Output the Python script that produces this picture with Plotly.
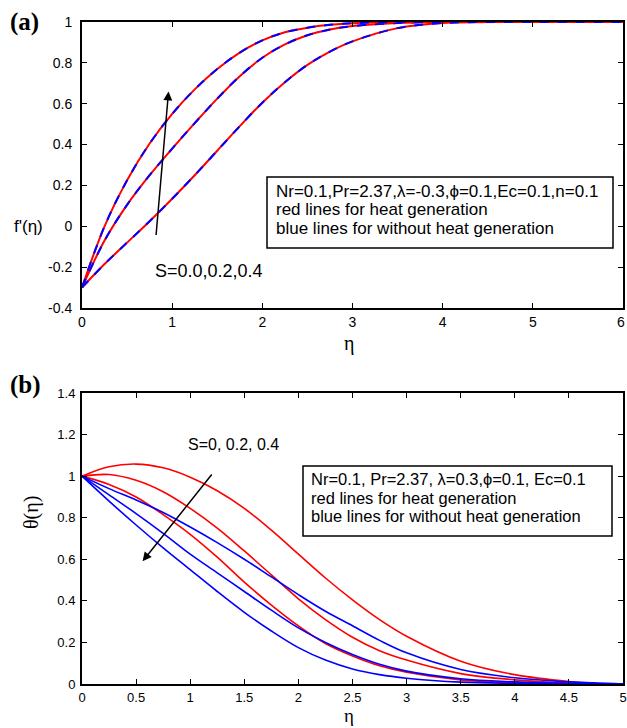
import plotly.graph_objects as go

# ---------- Panel (a): f'(eta) ----------
eta_a = [0, 0.25, 0.5, 0.75, 1, 1.25, 1.5, 1.75, 2, 2.25, 2.5, 2.75, 3, 3.5, 4, 5, 6]
fp_s00 = [-0.3, -0.185, -0.08, 0.025, 0.135, 0.25, 0.37, 0.49, 0.605, 0.705, 0.79, 0.855, 0.905, 0.97, 0.995, 1.0, 1.0]
fp_s02 = [-0.3, -0.07, 0.105, 0.25, 0.38, 0.505, 0.625, 0.735, 0.825, 0.89, 0.935, 0.963, 0.98, 0.995, 1.0, 1.0, 1.0]
fp_s04 = [-0.3, 0.0, 0.225, 0.405, 0.55, 0.67, 0.77, 0.85, 0.91, 0.95, 0.972, 0.986, 0.994, 1.0, 1.0, 1.0, 1.0]

# ---------- Panel (b): theta(eta) ----------
eta_b = [0, 0.25, 0.5, 0.75, 1, 1.25, 1.5, 1.75, 2, 2.25, 2.5, 2.75, 3, 3.5, 4, 4.5, 5]
eta_b_red = [0, 0.25, 0.5, 0.75, 1, 1.25, 1.5, 1.75, 2, 2.25, 2.5, 2.75, 3, 3.5, 4, 4.5, 4.75]
th_red_s00 = [1.0, 1.045, 1.058, 1.04, 0.995, 0.93, 0.845, 0.74, 0.625, 0.51, 0.405, 0.31, 0.23, 0.11, 0.045, 0.012, 0.004]
th_red_s02 = [1.0, 1.008, 0.98, 0.925, 0.845, 0.75, 0.64, 0.525, 0.41, 0.31, 0.225, 0.16, 0.115, 0.05, 0.02, 0.005, 0.002]
th_red_s04 = [1.0, 0.96, 0.90, 0.815, 0.72, 0.61, 0.49, 0.38, 0.28, 0.195, 0.135, 0.088, 0.057, 0.02, 0.006, 0.001, 0.0]
th_blue_s00 = [1.0, 0.94, 0.885, 0.825, 0.755, 0.68, 0.60, 0.515, 0.43, 0.35, 0.28, 0.21, 0.15, 0.07, 0.03, 0.01, 0.0]
th_blue_s02 = [1.0, 0.91, 0.82, 0.725, 0.625, 0.535, 0.445, 0.355, 0.27, 0.2, 0.142, 0.095, 0.062, 0.025, 0.01, 0.002, 0.0]
th_blue_s04 = [1.0, 0.88, 0.765, 0.655, 0.55, 0.445, 0.345, 0.255, 0.175, 0.115, 0.072, 0.045, 0.028, 0.009, 0.003, 0.0, 0.0]

ticks_a_x = [0, 1, 2, 3, 4, 5]
last_tick_a = 6
ticks_a_y = [-0.4, -0.2, 0, 0.2, 0.4, 0.6, 0.8, 1]
ticks_b_x = [0, 0.5, 1, 1.5, 2, 2.5, 3, 3.5, 4, 4.5, 5]
ticks_b_y = [0, 0.2, 0.4, 0.6, 0.8, 1, 1.2, 1.4]

legend_a = ["Nr=0.1,Pr=2.37,λ=-0.3,ϕ=0.1,Ec=0.1,n=0.1",
            "red lines for heat generation",
            "blue lines for without heat generation"]
legend_b = ["Nr=0.1, Pr=2.37, λ=0.3,ϕ=0.1, Ec=0.1",
            "red lines for heat generation",
            "blue lines for without heat generation"]

W, H = 627, 728
RED = "#ff0000"
BLUE = "#0000ff"
SANS = "Liberation Sans, Arial, sans-serif"
SERIF = "Liberation Serif, Times New Roman, serif"

fig = go.Figure()

for ys in (fp_s00, fp_s02, fp_s04):
    fig.add_trace(go.Scatter(x=eta_a, y=ys, mode="lines", line=dict(color=RED, width=2, shape="spline"),
                             xaxis="x", yaxis="y", showlegend=False))
    fig.add_trace(go.Scatter(x=eta_a, y=ys, mode="lines", line=dict(color=BLUE, width=2, dash="dash", shape="spline"),
                             xaxis="x", yaxis="y", showlegend=False))

for ys in (th_red_s00, th_red_s02, th_red_s04):
    fig.add_trace(go.Scatter(x=eta_b_red, y=ys, mode="lines", line=dict(color=RED, width=1.6, shape="spline"),
                             xaxis="x2", yaxis="y2", showlegend=False))
for ys in (th_blue_s00, th_blue_s02, th_blue_s04):
    fig.add_trace(go.Scatter(x=eta_b, y=ys, mode="lines", line=dict(color=BLUE, width=1.6, shape="spline"),
                             xaxis="x2", yaxis="y2", showlegend=False))

def px_x(p):
    return p / W

def px_y(p):
    return 1 - p / H

axis_common = dict(showline=True, linecolor="black", linewidth=2, mirror="ticks", ticks="inside",
                   ticklen=5, tickwidth=1, tickcolor="black", showgrid=False, zeroline=False,
                   automargin=False)

xdom = [px_x(82), px_x(623)]
fig.update_layout(
    width=W, height=H, margin=dict(l=0, r=0, t=0, b=0),
    paper_bgcolor="white", plot_bgcolor="white", showlegend=False,
    xaxis=dict(domain=xdom, range=[0, 6], tickvals=ticks_a_x + [last_tick_a],
               ticktext=[str(v) for v in ticks_a_x] + [""], anchor="y",
               tickfont=dict(family=SANS, size=14, color="black"), **axis_common),
    yaxis=dict(domain=[px_y(308), px_y(22)], range=[-0.4, 1], tickvals=ticks_a_y,
               ticktext=[("%g" % v) for v in ticks_a_y], anchor="x", ticklabelstandoff=5,
               tickfont=dict(family=SANS, size=14, color="black"), **axis_common),
    xaxis2=dict(domain=xdom, range=[0, 5], tickvals=ticks_b_x, anchor="y2",
                tickfont=dict(family=SANS, size=13, color="black"), **axis_common),
    yaxis2=dict(domain=[px_y(684), px_y(393)], range=[0, 1.4], tickvals=ticks_b_y,
                ticktext=[("%g" % v) for v in ticks_b_y], anchor="x2", ticklabelstandoff=2,
                tickfont=dict(family=SANS, size=13, color="black"), **axis_common),
)

ann = []
# last top tick label (placed so it is not clipped at the page edge)
ann.append(dict(x=px_x(621), y=px_y(322), xref="paper", yref="paper", text=str(last_tick_a), showarrow=False,
                xanchor="center", yanchor="middle", font=dict(family=SANS, size=14, color="black")))
# panel labels
ann.append(dict(x=px_x(8), y=px_y(22), xref="paper", yref="paper", text="<b>(a)</b>", showarrow=False,
                xanchor="left", yanchor="middle", font=dict(family=SERIF, size=25, color="black")))
ann.append(dict(x=px_x(8), y=px_y(385), xref="paper", yref="paper", text="<b>(b)</b>", showarrow=False,
                xanchor="left", yanchor="middle", font=dict(family=SERIF, size=25, color="black")))
# axis titles
ann.append(dict(x=px_x(28), y=px_y(226), xref="paper", yref="paper", text="f'(η)", showarrow=False,
                xanchor="center", yanchor="middle", font=dict(family=SANS, size=17, color="black")))
ann.append(dict(x=px_x(349), y=px_y(343), xref="paper", yref="paper", text="η", showarrow=False,
                xanchor="center", yanchor="middle", font=dict(family=SERIF, size=20, color="black")))
ann.append(dict(x=px_x(31), y=px_y(512), xref="paper", yref="paper", text="θ(η)", showarrow=False, textangle=-90,
                xanchor="center", yanchor="middle", font=dict(family=SERIF, size=20, color="black")))
ann.append(dict(x=px_x(349), y=px_y(715), xref="paper", yref="paper", text="η", showarrow=False,
                xanchor="center", yanchor="middle", font=dict(family=SERIF, size=19, color="black")))
# arrows
ann.append(dict(x=0.96, y=0.66, ax=0.82, ay=-0.05, xref="x", yref="y", axref="x", ayref="y", text="",
                showarrow=True, arrowhead=2, arrowsize=1.2, arrowwidth=1.5, arrowcolor="black"))
ann.append(dict(x=1.41, y=-0.22, xref="x", yref="y", text="S=0.0,0.2,0.4", showarrow=False,
                font=dict(family=SANS, size=18, color="black")))
ann.append(dict(x=0.56, y=0.59, ax=1.21, ay=1.015, xref="x2", yref="y2", axref="x2", ayref="y2", text="",
                showarrow=True, arrowhead=2, arrowsize=1.2, arrowwidth=1.5, arrowcolor="black"))
ann.append(dict(x=1.40, y=1.15, xref="x2", yref="y2", text="S=0, 0.2, 0.4", showarrow=False,
                font=dict(family=SANS, size=16, color="black")))
# legend texts
for t, yy in zip(legend_a, [192, 210, 228]):
    ann.append(dict(x=px_x(274), y=px_y(yy), xref="paper", yref="paper", text=t, showarrow=False,
                    xanchor="left", yanchor="middle", font=dict(family=SANS, size=17, color="black")))
for t, yy in zip(legend_b, [479, 498, 516]):
    ann.append(dict(x=px_x(309), y=px_y(yy), xref="paper", yref="paper", text=t, showarrow=False,
                    xanchor="left", yanchor="middle", font=dict(family=SANS, size=16.5, color="black")))
fig.update_layout(annotations=ann)

fig.update_layout(shapes=[
    dict(type="rect", xref="paper", yref="paper", x0=px_x(267), x1=px_x(613), y0=px_y(248), y1=px_y(177),
         line=dict(color="black", width=1.5), fillcolor="white", layer="above"),
    dict(type="rect", xref="paper", yref="paper", x0=px_x(303), x1=px_x(612), y0=px_y(536), y1=px_y(466),
         line=dict(color="black", width=1.5), fillcolor="rgba(255,255,255,0)", layer="above"),
])

fig.write_html("out.html", config={"displayModeBar": False},
               post_script="document.body.style.margin='0';document.body.style.overflow='hidden';")
